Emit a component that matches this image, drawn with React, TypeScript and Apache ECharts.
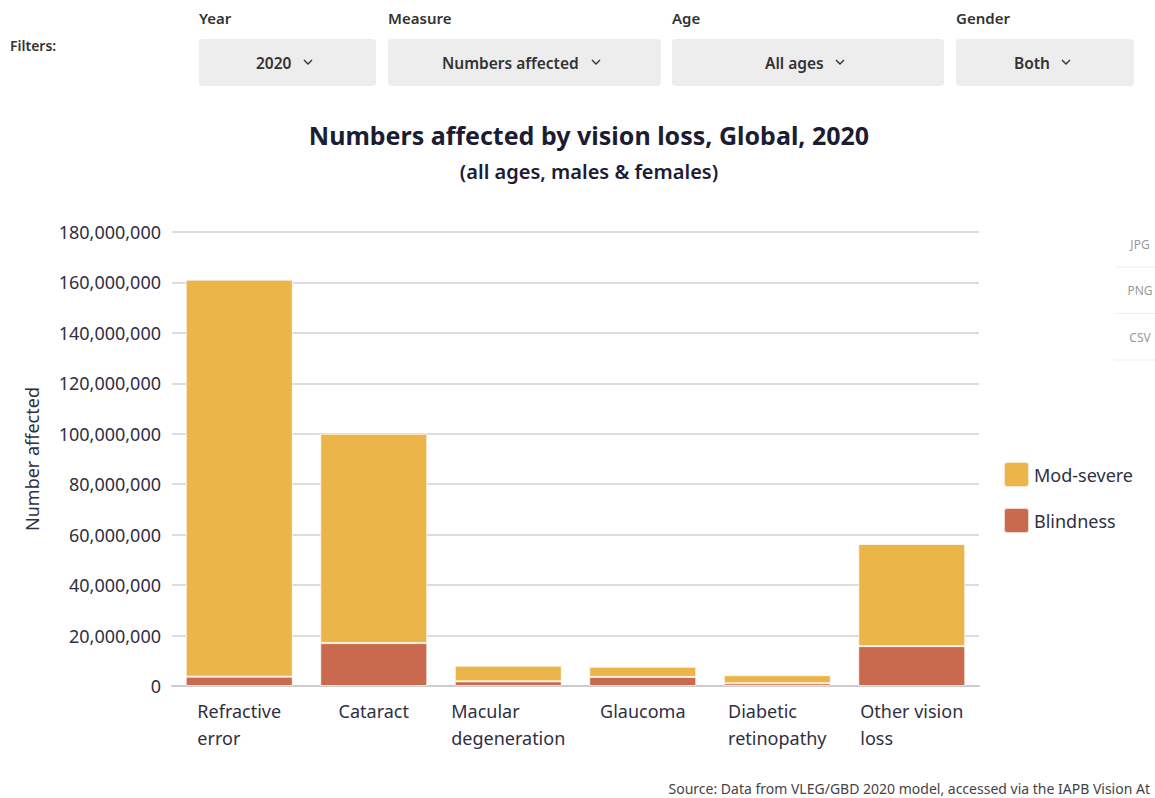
import React, { useEffect, useRef } from "react";
import * as echarts from "echarts";

const categories = ["Refractive\nerror", "Cataract", "Macular\ndegeneration", "Glaucoma", "Diabetic\nretinopathy", "Other vision\nloss"];
const blindness = [3700000, 17000000, 1850000, 3600000, 1070000, 15800000];
const modSevere = [157400000, 83000000, 6200000, 4000000, 3200000, 40500000];
const yTicks = { min: 0, max: 180000000, interval: 20000000 };

const filterLabels = ["Year", "Measure", "Age", "Gender"];
const filterValues = ["2020", "Numbers affected", "All ages", "Both"];
const exportButtons = ["JPG", "PNG", "CSV"];

const FONT = "'Noto Sans', 'Open Sans', sans-serif";
const TXT = "#2f2f44";

export default function App() {
  const ref = useRef<HTMLDivElement>(null);
  useEffect(() => {
    if (!ref.current) return;
    const chart = echarts.init(ref.current, undefined, { renderer: "svg" });

    const boxes = [
      { x: 199, w: 177, tx: 256, cx: 308 },
      { x: 388, w: 273, tx: 442, cx: 596 },
      { x: 672, w: 272, tx: 765, cx: 840 },
      { x: 956, w: 178, tx: 1014, cx: 1066 },
    ];
    const graphics: any[] = [];
    graphics.push({
      type: "text", x: 10, y: 45,
      style: { text: "Filters:", font: `600 14px ${FONT}`, fill: "#333", textVerticalAlign: "middle" },
    });
    boxes.forEach((b, i) => {
      graphics.push({
        type: "text", x: b.x, y: 18,
        style: { text: filterLabels[i], font: `600 15px ${FONT}`, fill: "#333", textVerticalAlign: "middle" },
      });
      graphics.push({
        type: "rect", shape: { x: b.x, y: 39, width: b.w, height: 47, r: 4 },
        style: { fill: "#ededed" },
      });
      graphics.push({
        type: "text", x: b.tx, y: 63,
        style: { text: filterValues[i], font: `600 15.5px ${FONT}`, fill: "#333", textVerticalAlign: "middle" },
      });
      graphics.push({
        type: "polyline",
        shape: { points: [[b.cx - 4, 60], [b.cx, 64], [b.cx + 4, 60]] },
        style: { stroke: "#333", lineWidth: 1.4, fill: null },
      });
    });
    graphics.push({
      type: "text", x: 589, y: 135,
      style: { text: "Numbers affected by vision loss, Global, 2020", font: `bold 25px ${FONT}`, fill: "#1c1c33", textAlign: "center", textVerticalAlign: "middle" },
    });
    graphics.push({
      type: "text", x: 589, y: 171,
      style: { text: "(all ages, males & females)", font: `600 20px ${FONT}`, fill: "#1c1c33", textAlign: "center", textVerticalAlign: "middle" },
    });
    exportButtons.forEach((t, i) => {
      const cy = 244 + i * 46.5;
      graphics.push({
        type: "text", x: 1140, y: cy,
        style: { text: t, font: `12px ${FONT}`, fill: "#999", textAlign: "center", textVerticalAlign: "middle" },
      });
      graphics.push({
        type: "line", shape: { x1: 1115, y1: cy + 23, x2: 1155, y2: cy + 23 },
        style: { stroke: "#f0f0f0", lineWidth: 1 },
      });
    });
    graphics.push({
      type: "text", x: 1150, y: 788,
      style: { text: "Source: Data from VLEG/GBD 2020 model, accessed via the IAPB Vision At", font: `14px ${FONT}`, fill: "#444", textAlign: "right", textVerticalAlign: "middle" },
    });

    chart.setOption({
      animation: false,
      textStyle: { fontFamily: FONT },
      grid: { left: 172, right: 176, top: 232, bottom: 112 },
      legend: {
        data: ["Mod-severe", "Blindness"],
        orient: "vertical",
        left: 998,
        top: 456,
        padding: 5,
        itemWidth: 25,
        itemHeight: 25,
        itemGap: 19,
        itemTextGap: 7,
        icon: "path://M3,0H22Q25,0,25,3V22Q25,25,22,25H3Q0,25,0,22V3Q0,0,3,0Z",
        textStyle: { fontSize: 18, color: TXT, fontFamily: FONT },
      },
      xAxis: {
        type: "category",
        data: categories,
        axisLine: { lineStyle: { color: "#ccc", width: 2 } },
        axisTick: { show: false },
        axisLabel: {
          margin: 11,
          formatter: (v: string) => v.split("\n").map((s) => `{a|${s}}`).join("\n"),
          rich: { a: { fontSize: 18, color: TXT, lineHeight: 27, align: "left", fontFamily: FONT } },
        },
      },
      yAxis: {
        type: "value",
        min: yTicks.min,
        max: yTicks.max,
        interval: yTicks.interval,
        name: "Number affected",
        nameLocation: "middle",
        nameRotate: 90,
        nameGap: 131,
        nameTextStyle: { fontSize: 18, color: TXT, fontFamily: FONT },
        axisLabel: {
          fontSize: 18, color: TXT, margin: 11,
          formatter: (v: number) => v.toLocaleString("en-US"),
        },
        splitLine: { lineStyle: { color: "#ddd", width: 2 } },
        axisLine: { show: false },
      },
      series: [
        {
          name: "Blindness", type: "bar", stack: "a", data: blindness, barWidth: 107,
          itemStyle: { color: "#C9694D", borderColor: "rgba(255,255,255,0.7)", borderWidth: 1 },
        },
        {
          name: "Mod-severe", type: "bar", stack: "a", data: modSevere, barWidth: 107,
          itemStyle: { color: "#EBB54A", borderColor: "rgba(255,255,255,0.7)", borderWidth: 1 },
        },
      ],
      graphic: graphics,
    });
    return () => chart.dispose();
  }, []);
  return (
    <div style={{ position: "fixed", left: 0, top: 0, width: 1155, height: 798, background: "#fff", overflow: "hidden" }}>
      <div ref={ref} style={{ width: 1155, height: 798 }} />
    </div>
  );
}
